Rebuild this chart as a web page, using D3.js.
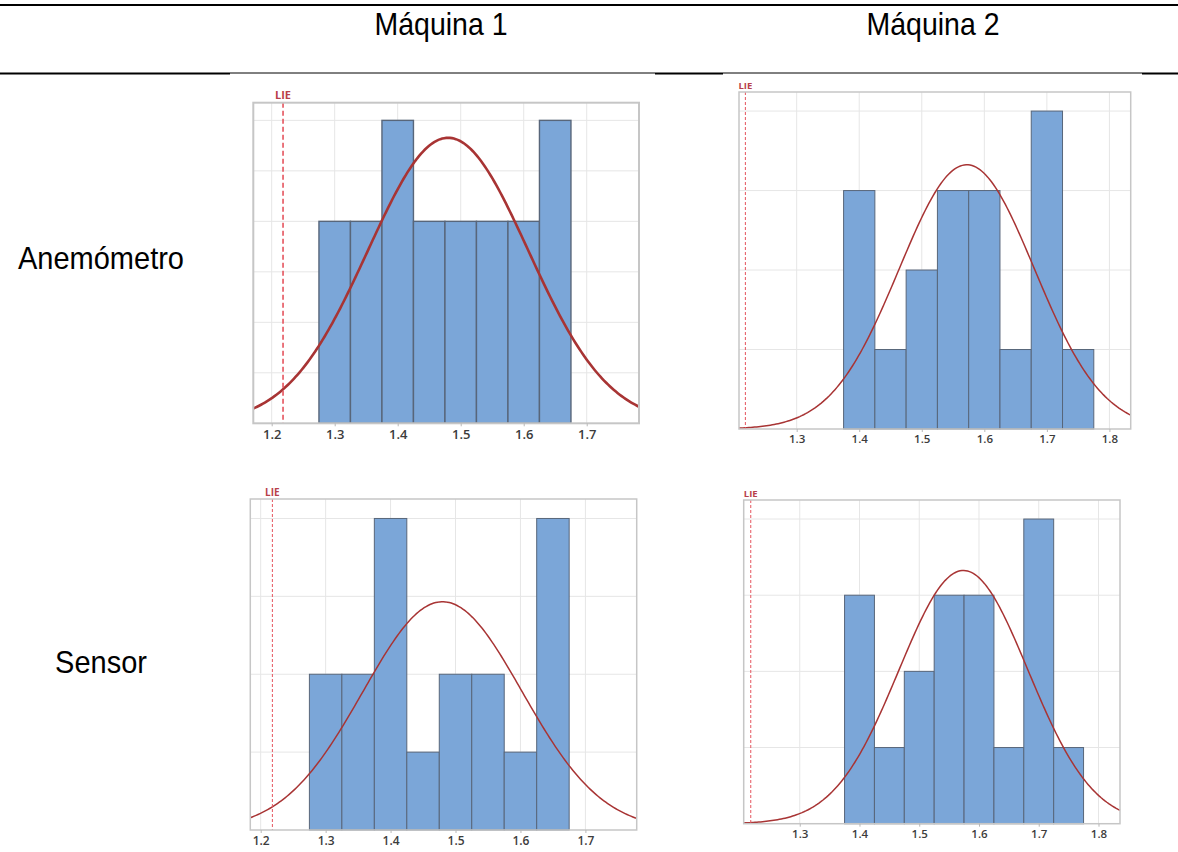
<!DOCTYPE html>
<html>
  <head>
    <title>Histogramas</title>
    <meta charset="UTF-8">
    <script src="https://d3js.org/d3.v7.min.js"></script>
    <style>
      body {
        margin: 0;
        background: #fff;
      }
      .head {
        font-family: "Liberation Sans", Arial, sans-serif;
        fill: #000;
      }
      .tick text {
        font-family: "Open Sans", sans-serif;
        font-weight: 600;
        fill: #3c3c3c;
      }
      .tick line {
        stroke: #b8b8b8;
      }
      .grid {
        stroke: #e6e6e6;
        stroke-width: 1;
      }
      .bar {
        fill: #7ba6d8;
        stroke: #58667a;
      }
      .curve {
        fill: none;
        stroke: #a83434;
      }
      .lie {
        stroke: #e5545e;
      }
      .lie-label {
        font-family: "Open Sans", sans-serif;
        font-weight: 700;
        fill: #b8404a;
      }
    </style>
  </head>
  <body>
    <div id="chart"></div>

<script>
  // column / row headers
  const colHeaders = ["Máquina 1", "Máquina 2"];
  const rowHeaders = ["Anemómetro", "Sensor"];

  // histogram bins (width 0.05) and counts
  const binWidth = 0.05;
  const binStartM1 = 1.275;
  const binStartM2 = 1.375;
  const countsM1Anem = [4, 4, 6, 4, 4, 4, 4, 6];
  const countsM2Anem = [3, 1, 2, 3, 3, 1, 4, 1];
  const countsM1Sens = [2, 2, 4, 1, 2, 2, 1, 4];
  const countsM2Sens = [3, 1, 2, 3, 3, 1, 4, 1];

  // fitted normal (mean, sd) for each histogram
  const fitMean = [1.48, 1.572, 1.48, 1.574];
  const fitSd = [0.127, 0.108, 0.1225, 0.108];

  // lower spec limit
  const lieValue = 1.218;

  const xTicksM1 = [1.2, 1.3, 1.4, 1.5, 1.6, 1.7];
  const xTicksM2 = [1.3, 1.4, 1.5, 1.6, 1.7, 1.8];

  var width = 1178, height = 852;

  var svg = d3.select("#chart")
    .append("svg")
      .attr("width", width)
      .attr("height", height);

  svg.append("rect").attr("width", width).attr("height", height).attr("fill", "#fff");

  // table rules
  svg.append("line").attr("x1", 0).attr("x2", width).attr("y1", 5).attr("y2", 5)
    .attr("stroke", "#000").attr("stroke-width", 2);
  [[0, 230, 2], [230, 655, 1], [655, 723, 2], [723, 1142, 1], [1142, 1178, 2]].forEach(function(s) {
    svg.append("line").attr("x1", s[0]).attr("x2", s[1])
      .attr("y1", s[2] == 2 ? 73.5 : 73).attr("y2", s[2] == 2 ? 73.5 : 73)
      .attr("stroke", "#000").attr("stroke-width", s[2]);
  });

  // headers, slightly stretched vertically like the source
  svg.selectAll(".colhead").data(colHeaders).enter()
    .append("text")
      .attr("class", "head")
      .attr("transform", function(d, i) { return "translate(" + (i == 0 ? 441 : 933) + ",35) scale(1,1.1)"; })
      .attr("text-anchor", "middle")
      .attr("font-size", "28.5px")
      .text(function(d) { return d; });

  svg.selectAll(".rowhead").data(rowHeaders).enter()
    .append("text")
      .attr("class", "head")
      .attr("transform", function(d, i) { return "translate(101," + (i == 0 ? 269 : 673) + ") scale(1,1.06)"; })
      .attr("text-anchor", "middle")
      .attr("font-size", "29px")
      .text(function(d) { return d; });

  // panel layout (pixels) and scale domains
  var panels = [
    {counts: countsM1Anem, start: binStartM1, ticks: xTicksM1, fit: 0,
     left: 253.3, right: 639, top: 102.7, bottom: 423.3, xDom: [1.1708, 1.783], yMax: 6.35,
     curveW: 2.6, barW: 1.4, font: 13, lieFont: 11, dash: "5,3", lieW: 1.6, frameW: 2},
    {counts: countsM2Anem, start: binStartM2, ticks: xTicksM2, fit: 1,
     left: 739, right: 1130.7, top: 92, bottom: 429, xDom: [1.2078, 1.834], yMax: 4.24,
     curveW: 1.5, barW: 1, font: 11.5, lieFont: 9.5, dash: "3,2", lieW: 1, frameW: 1.5},
    {counts: countsM1Sens, start: binStartM1, ticks: xTicksM1, fit: 2,
     left: 250.3, right: 636.7, top: 499, bottom: 830, xDom: [1.184, 1.779], yMax: 4.25,
     curveW: 1.5, barW: 1, font: 12, lieFont: 10, dash: "3,2", lieW: 1, frameW: 1.5},
    {counts: countsM2Sens, start: binStartM2, ticks: xTicksM2, fit: 3,
     left: 743.7, right: 1120, top: 500, bottom: 823.7, xDom: [1.2062, 1.836], yMax: 4.25,
     curveW: 1.5, barW: 1, font: 11.5, lieFont: 9.5, dash: "3,2", lieW: 1, frameW: 1.5}
  ];

  const render = (p) => {
    var g = svg.append("g");

    var x = d3.scaleLinear().domain(p.xDom).range([p.left, p.right]);
    var y = d3.scaleLinear().domain([0, p.yMax]).range([p.bottom, p.top]);

    // grid
    g.selectAll(".vgrid").data(p.ticks).enter()
      .append("line").attr("class", "grid")
        .attr("x1", d => x(d)).attr("x2", d => x(d))
        .attr("y1", p.top).attr("y2", p.bottom);
    g.selectAll(".hgrid").data(d3.range(1, Math.floor(p.yMax) + 1)).enter()
      .append("line").attr("class", "grid")
        .attr("x1", p.left).attr("x2", p.right)
        .attr("y1", d => y(d)).attr("y2", d => y(d));

    // bars
    var bins = p.counts.map(function(c, i) {
      return {x0: p.start + i * binWidth, x1: p.start + (i + 1) * binWidth, n: c};
    });
    g.selectAll(".bar").data(bins).enter()
      .append("rect").attr("class", "bar")
        .attr("x", d => x(d.x0))
        .attr("width", d => x(d.x1) - x(d.x0))
        .attr("y", d => y(d.n))
        .attr("height", d => y(0) - y(d.n))
        .attr("stroke-width", p.barW);

    // fitted normal curve scaled to counts
    var n = d3.sum(p.counts);
    var mu = fitMean[p.fit], sd = fitSd[p.fit];
    var pts = d3.range(0, 201).map(function(k) {
      var v = p.xDom[0] + (p.xDom[1] - p.xDom[0]) * k / 200;
      var dens = Math.exp(-0.5 * Math.pow((v - mu) / sd, 2)) / (sd * Math.sqrt(2 * Math.PI));
      return [v, n * binWidth * dens];
    });
    g.append("path").attr("class", "curve")
      .datum(pts)
      .attr("stroke-width", p.curveW)
      .attr("d", d3.line().x(d => x(d[0])).y(d => y(d[1])));

    // LIE line
    g.append("line").attr("class", "lie")
      .attr("x1", x(lieValue)).attr("x2", x(lieValue))
      .attr("y1", p.top).attr("y2", p.bottom)
      .attr("stroke-width", p.lieW)
      .attr("stroke-dasharray", p.dash);
    g.append("text").attr("class", "lie-label")
      .attr("x", x(lieValue))
      .attr("y", p.top - 3.5)
      .attr("text-anchor", "middle")
      .attr("font-size", p.lieFont + "px")
      .text("LIE");

    // frame
    g.append("rect")
      .attr("x", p.left).attr("y", p.top)
      .attr("width", p.right - p.left).attr("height", p.bottom - p.top)
      .attr("fill", "none").attr("stroke", "#c6c6c6").attr("stroke-width", p.frameW);

    // x axis
    var ax = g.append("g")
      .attr("transform", "translate(0," + p.bottom + ")")
      .call(d3.axisBottom(x).tickValues(p.ticks).tickSize(3).tickPadding(3).tickFormat(d3.format(".1f")));
    ax.select(".domain").remove();
    ax.selectAll(".tick text").attr("font-size", p.font + "px");
  }

  panels.forEach(render);
</script>
  </body>
</html>
